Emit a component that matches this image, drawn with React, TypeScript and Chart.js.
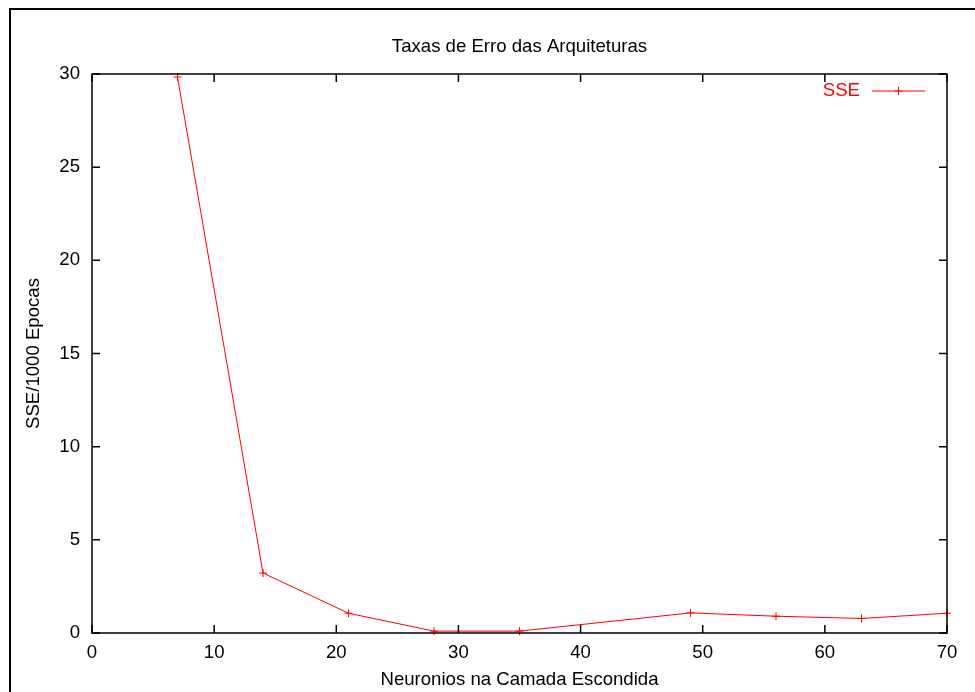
import React, { useEffect, useRef } from "react";
import { Chart, registerables } from "chart.js";

Chart.register(...registerables);

const neurons = [7, 14, 21, 28, 35, 49, 56, 63, 70];
const sseValues = [29.84, 3.22, 1.06, 0.1, 0.1, 1.08, 0.9, 0.78, 1.06];
const xTicks = [0, 10, 20, 30, 40, 50, 60, 70];
const yTicks = [0, 5, 10, 15, 20, 25, 30];
const titleText = "Taxas de Erro das Arquiteturas";
const xTitle = "Neuronios na Camada Escondida";
const yTitle = "SSE/1000 Epocas";
const seriesLabel = "SSE";

const FONT = "'Liberation Sans', Arial, Helvetica, sans-serif";
const FS = 18.6;
const RED = "#ff0000";

const framePlugin = {
  id: "gnuplotFrame",
  afterDraw(chart: any) {
    const { ctx, chartArea } = chart;
    const { left, right, top, bottom } = chartArea;
    const xs = chart.scales.x;
    const ys = chart.scales.y;
    const tl = 8;
    ctx.save();
    ctx.strokeStyle = "#000";
    ctx.lineWidth = 1.5;
    ctx.beginPath();
    xTicks.forEach((v) => {
      const px = xs.getPixelForValue(v);
      ctx.moveTo(px, bottom);
      ctx.lineTo(px, bottom - tl);
      ctx.moveTo(px, top);
      ctx.lineTo(px, top + tl);
    });
    yTicks.forEach((v) => {
      const py = ys.getPixelForValue(v);
      ctx.moveTo(left, py);
      ctx.lineTo(left + tl, py);
      ctx.moveTo(right, py);
      ctx.lineTo(right - tl, py);
    });
    ctx.stroke();
    ctx.strokeRect(left, top, right - left, bottom - top);

    // title, centred over the plot area
    ctx.fillStyle = "#000";
    ctx.font = `${FS}px ${FONT}`;
    ctx.textAlign = "center";
    ctx.textBaseline = "middle";
    ctx.fillText(titleText, (left + right) / 2, top - 27);

    // legend
    const ly = top + 17;
    const lineEnd = right - 22;
    const lineStart = lineEnd - 53;
    ctx.fillStyle = RED;
    ctx.textAlign = "right";
    ctx.fillText(seriesLabel, lineStart - 12, ly);
    ctx.strokeStyle = RED;
    ctx.lineWidth = 1;
    ctx.beginPath();
    ctx.moveTo(lineStart, ly);
    ctx.lineTo(lineEnd, ly);
    const mx = (lineStart + lineEnd) / 2;
    ctx.moveTo(mx - 4, ly);
    ctx.lineTo(mx + 4, ly);
    ctx.moveTo(mx, ly - 4);
    ctx.lineTo(mx, ly + 4);
    ctx.stroke();
    ctx.restore();
  },
};

export default function App() {
  const ref = useRef<HTMLCanvasElement | null>(null);

  useEffect(() => {
    if (!ref.current) return;
    Chart.defaults.color = "#000";
    const chart = new Chart(ref.current, {
      type: "line",
      data: {
        datasets: [
          {
            label: seriesLabel,
            data: neurons.map((n, i) => ({ x: n, y: sseValues[i] })),
            borderColor: RED,
            backgroundColor: RED,
            borderWidth: 1,
            pointStyle: "cross",
            pointRadius: 4,
            pointBorderWidth: 1,
            pointBorderColor: RED,
            tension: 0,
            clip: false as any,
          },
        ],
      },
      options: {
        animation: false,
        responsive: false,
        devicePixelRatio: 1,
        layout: { padding: { left: 0, right: 28, top: 64, bottom: 0 } },
        plugins: {
          legend: { display: false },
          tooltip: { enabled: false },
          title: { display: false },
        },
        scales: {
          x: {
            type: "linear",
            min: 0,
            max: 70,
            afterBuildTicks: (s: any) => {
              s.ticks = xTicks.map((v) => ({ value: v }));
            },
            afterFit: (s: any) => {
              s.height = 59;
            },
            grid: { display: false, drawTicks: false, tickLength: 0 },
            border: { display: false },
            ticks: {
              padding: 9,
              maxRotation: 0,
              autoSkip: false,
              color: "#000",
              font: { family: FONT, size: FS },
            },
            title: {
              display: true,
              text: xTitle,
              color: "#000",
              font: { family: FONT, size: FS, lineHeight: 1.2 },
              padding: { top: 0, bottom: 1 },
            },
          },
          y: {
            type: "linear",
            min: 0,
            max: 30,
            afterBuildTicks: (s: any) => {
              s.ticks = yTicks.map((v) => ({ value: v }));
            },
            afterFit: (s: any) => {
              s.width = 81;
            },
            grid: { display: false, drawTicks: false, tickLength: 0 },
            border: { display: false },
            ticks: {
              padding: 12,
              autoSkip: false,
              color: "#000",
              font: { family: FONT, size: FS },
            },
            title: {
              display: true,
              text: yTitle,
              color: "#000",
              font: { family: FONT, size: FS, lineHeight: 1.2 },
              padding: { top: 12, bottom: 0 },
            },
          },
        },
      },
      plugins: [framePlugin],
    });
    return () => chart.destroy();
  }, []);

  return (
    <div
      style={{
        position: "absolute",
        left: 9,
        top: 8,
        width: 964,
        height: 682,
        borderLeft: "2px solid #000",
        borderTop: "2px solid #000",
        overflow: "hidden",
        background: "#fff",
      }}
    >
      <canvas
        ref={ref}
        width={964}
        height={682}
        style={{ display: "block", width: 964, height: 682 }}
      />
    </div>
  );
}
